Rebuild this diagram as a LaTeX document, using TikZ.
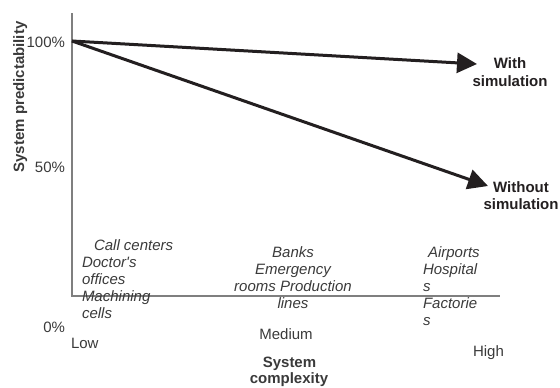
\documentclass[tikz,border=0pt]{standalone}
\usepackage{fontspec}
\setmainfont{Liberation Sans}
\usetikzlibrary{arrows.meta}
\definecolor{axisgray}{HTML}{7F7F7F}
\definecolor{ink}{HTML}{231F20}
\definecolor{txt}{HTML}{3A3A3A}
\begin{document}
\begin{tikzpicture}[x=1pt,y=-1pt,
  every node/.style={inner sep=0pt,outer sep=0pt,font=\fontsize{15}{17}\selectfont},
  axisline/.style={draw=axisgray,line width=2pt},
  trend/.style={draw=ink,line width=3pt,-{Triangle[length=20pt,width=20pt]},shorten >=0pt},
  cat/.style={text=txt,font=\fontsize{15}{17}\selectfont\itshape},
  tick/.style={text=txt},
  boldlbl/.style={text=ink,font=\fontsize{15}{17}\selectfont\bfseries},
  axislbl/.style={text=txt,font=\fontsize{15}{17}\selectfont\bfseries}]
\useasboundingbox (0,0) rectangle (560,388);
% axes
\coordinate (ytop) at (72,13);
\coordinate (O) at (72,296);
\coordinate (xend) at (500,296);
\draw[axisline] (ytop) -- (O) -- (xend);
% trend arrows
\coordinate (start) at (72,41);
\coordinate (withtip) at (477,64);
\coordinate (withouttip) at (488,186);
\draw[trend] (start) -- (withtip);
\draw[trend] (start) -- (withouttip);
% arrow labels
\node[boldlbl,anchor=base] (w1) at (510,68) {With};
\node[boldlbl,anchor=base] (w2) at (510,86) {simulation};
\node[boldlbl,anchor=base] (wo1) at (521,192) {Without};
\node[boldlbl,anchor=base] (wo2) at (521,209) {simulation};
% y ticks
\node[tick,anchor=base east] (t100) at (65,47) {100\%};
\node[tick,anchor=base east] (t50) at (65,172) {50\%};
\node[tick,anchor=base east] (t0) at (65,332) {0\%};
% y axis label
\node[axislbl,anchor=base,rotate=90] (ylab) at (24,97) {System predictability};
% x ticks
\node[tick,anchor=base west] (low) at (71,348) {Low};
\node[tick,anchor=base] (med) at (286,339) {Medium};
\node[tick,anchor=base west] (high) at (473,356) {High};
\node[axislbl,anchor=base] (xl1) at (289.5,367) {System};
\node[axislbl,anchor=base] (xl2) at (289,383) {complexity};
% low-complexity examples
\node[cat,anchor=base west] (c1) at (94,250) {Call centers};
\node[cat,anchor=base west] (c2) at (82,267) {Doctor\textquotesingle s};
\node[cat,anchor=base west] (c3) at (82,284) {offices};
\node[cat,anchor=base west] (c4) at (82,301) {Machining};
\node[cat,anchor=base west] (c5) at (82,318) {cells};
% medium-complexity examples
\node[cat,anchor=base] (m1) at (293,257) {Banks};
\node[cat,anchor=base] (m2) at (293,274) {Emergency};
\node[cat,anchor=base] (m3) at (293,291) {rooms Production};
\node[cat,anchor=base] (m4) at (293,308) {lines};
% high-complexity examples
\node[cat,anchor=base west] (h1) at (428,257) {Airports};
\node[cat,anchor=base west] (h2) at (423,274) {Hospital};
\node[cat,anchor=base west] (h3) at (423,291) {s};
\node[cat,anchor=base west] (h4) at (423,308) {Factorie};
\node[cat,anchor=base west] (h5) at (423,325) {s};
\end{tikzpicture}
\end{document}
